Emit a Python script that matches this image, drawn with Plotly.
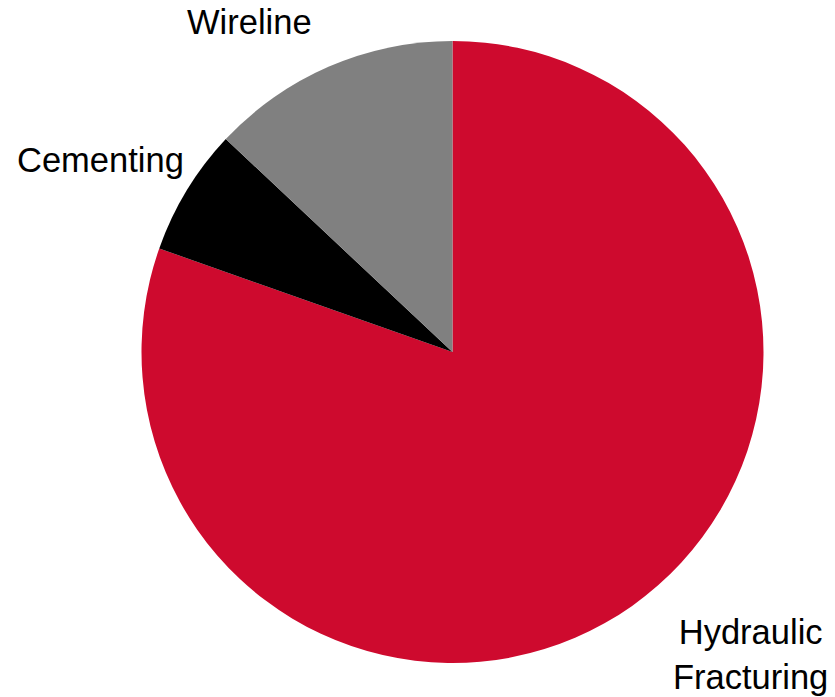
import plotly.graph_objects as go

labels = ["Hydraulic Fracturing", "Cementing", "Wireline"]
label_text = ["Hydraulic<br>Fracturing", "Cementing", "Wireline"]
values = [80.4, 6.6, 13.0]
colors = ["#CE0A2E", "#000000", "#808080"]

W, H = 835, 697
cx, cy, r = 452.5, 352, 311

fig = go.Figure(go.Pie(
    labels=labels,
    values=values,
    sort=False,
    direction="clockwise",
    rotation=0,
    marker=dict(colors=colors, line=dict(width=0)),
    textinfo="none",
    hoverinfo="label+percent",
    domain=dict(x=[(cx - r) / W, (cx + r) / W], y=[(H - cy - r) / H, (H - cy + r) / H]),
))

# label positions (pixel centres)
label_pos = [(750, 654), (100, 160), (249, 22)]
for txt, (px, py) in zip(label_text, label_pos):
    fig.add_annotation(
        text=txt, x=px / W, y=1 - py / H, xref="paper", yref="paper",
        showarrow=False, xanchor="center", yanchor="middle",
        font=dict(family="Liberation Sans, Arial, sans-serif", size=34.5, color="#000000"),
    )

fig.update_layout(
    width=W, height=H,
    margin=dict(l=0, r=0, t=0, b=0),
    showlegend=False,
    paper_bgcolor="white",
    plot_bgcolor="white",
)

fig.write_html("out.html")
